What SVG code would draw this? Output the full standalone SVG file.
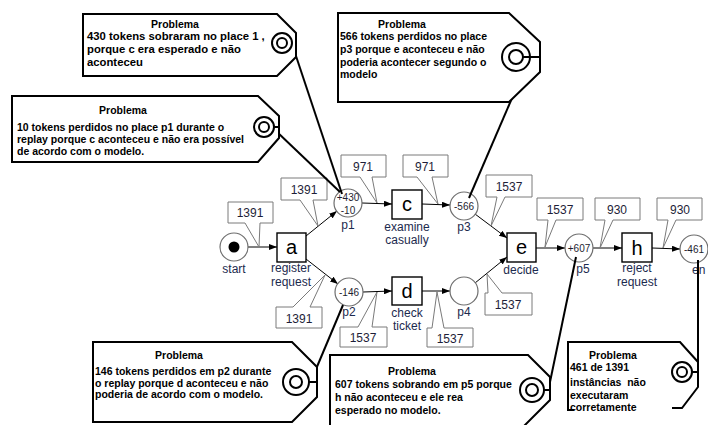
<svg xmlns="http://www.w3.org/2000/svg" width="708" height="425" viewBox="0 0 708 425">
  <defs>
    <marker id="arr" viewBox="0 0 8 6" refX="8" refY="3" markerWidth="8" markerHeight="6" orient="auto" markerUnits="userSpaceOnUse">
      <path d="M0,0 L8,3 L0,6 z" fill="#000"/>
    </marker>
    <style>
      .pl { fill:#fff; stroke:#6e6e6e; stroke-width:1.2 }
      .tr { fill:#fff; stroke:#000; stroke-width:1.4 }
      .arc { fill:none; stroke:#000; stroke-width:1; marker-end:url(#arr) }
      .co { fill:#fff; stroke:#7a7a7a; stroke-width:1 }
      .cot { font-family:"Liberation Sans", Arial, sans-serif; font-size:12px; fill:#1e1e38; text-anchor:middle }
      .lbl { font-family:"Liberation Sans", Arial, sans-serif; font-size:12px; fill:#1c2a4e; text-anchor:middle }
      .tl { font-family:"Liberation Sans", Arial, sans-serif; font-size:20px; fill:#000; text-anchor:middle }
      .in { font-family:"Liberation Sans", Arial, sans-serif; font-size:10px; fill:#1e1e30; text-anchor:middle }
      .tag { fill:#fff; stroke:#000; stroke-width:2; stroke-linejoin:miter }
      .tagfill { fill:#fff; stroke:none }
      .tt { font-family:"Liberation Sans", Arial, sans-serif; font-size:10.5px; font-weight:bold; fill:#000 }
      .tt.big { font-size:11.3px }
      .th { text-anchor:middle }
      .ring { fill:none; stroke:#000; stroke-width:2 }
      .lead { fill:none; stroke:#000; stroke-width:2 }
    </style>
  </defs>

  <!-- arcs of the net -->
  <g id="connectors">
    <line class="arc" x1="248" y1="247" x2="277" y2="247"/>
    <line class="arc" x1="306" y1="236" x2="337" y2="211"/>
    <line class="arc" x1="306" y1="259" x2="338" y2="284"/>
    <line class="arc" x1="362" y1="203" x2="392" y2="204"/>
    <line class="arc" x1="422" y1="204" x2="450" y2="205"/>
    <line class="arc" x1="363" y1="292" x2="392" y2="291"/>
    <line class="arc" x1="422" y1="291" x2="450" y2="291"/>
    <line class="arc" x1="475" y1="214" x2="507" y2="238"/>
    <line class="arc" x1="475" y1="283" x2="507" y2="257"/>
    <line class="arc" x1="536" y1="248" x2="565" y2="248"/>
    <line class="arc" x1="593" y1="248" x2="622" y2="248"/>
    <line class="arc" x1="652" y1="248" x2="680" y2="249"/>
  </g>

  <!-- token count callouts on the arcs -->
  <g id="counts">
    <path class="co" d="M228,202 H273 V223 H260 L259,247 L245,223 H228 Z"/>
    <text class="cot" x="250" y="217">1391</text>
    <path class="co" d="M281,178 H327 V200 H313 L318,226 L300,200 H281 Z"/>
    <text class="cot" x="304" y="194">1391</text>
    <path class="co" d="M341,155 H386 V177 H372 L377,203 L360,177 H341 Z"/>
    <text class="cot" x="363" y="171">971</text>
    <path class="co" d="M403,155 H448 V177 H432 L438,204 L417,177 H403 Z"/>
    <text class="cot" x="425" y="171">971</text>
    <path class="co" d="M486,175 H532 V197 H505 L491,226 L497,197 H486 Z"/>
    <text class="cot" x="509" y="191">1537</text>
    <path class="co" d="M537,198 H583 V220 H556 L545,247 L548,220 H537 Z"/>
    <text class="cot" x="560" y="214">1537</text>
    <path class="co" d="M595,198 H640 V220 H613 L600,248 L605,220 H595 Z"/>
    <text class="cot" x="617" y="214">930</text>
    <path class="co" d="M657,198 H702 V220 H676 L663,248 L668,220 H657 Z"/>
    <text class="cot" x="680" y="214">930</text>
    <path class="co" d="M276,307 H293 L325,275 L310,307 H322 V328 H276 Z"/>
    <text class="cot" x="299" y="323">1391</text>
    <path class="co" d="M340,327 H358 L377,292 L372,327 H387 V347 H340 Z"/>
    <text class="cot" x="363" y="342">1537</text>
    <path class="co" d="M427,328 H432 L437,292 L444,328 H473 V347 H427 Z"/>
    <text class="cot" x="450" y="343">1537</text>
    <path class="co" d="M485,293 H488 L487,274 L502,293 H532 V315 H485 Z"/>
    <text class="cot" x="508" y="309">1537</text>
  </g>

  <!-- places -->
  <g id="start">
    <circle class="pl" cx="234" cy="247" r="14"/>
    <circle cx="234" cy="247" r="5.5" fill="#000"/>
    <text class="lbl" x="234" y="273">start</text>
  </g>
  <g id="p1">
    <circle class="pl" cx="348" cy="203" r="14"/>
    <text class="in" x="348" y="201">+430</text>
    <text class="in" x="348" y="214">-10</text>
    <text class="lbl" x="348" y="229">p1</text>
  </g>
  <g id="p2">
    <circle class="pl" cx="349" cy="292" r="14"/>
    <text class="in" x="349" y="296">-146</text>
    <text class="lbl" x="349" y="316">p2</text>
  </g>
  <g id="p3">
    <circle class="pl" cx="464" cy="206" r="14"/>
    <text class="in" x="464" y="210">-566</text>
    <text class="lbl" x="464" y="231">p3</text>
  </g>
  <g id="p4">
    <circle class="pl" cx="464" cy="291" r="14"/>
    <text class="lbl" x="464" y="316">p4</text>
  </g>
  <g id="p5">
    <circle class="pl" cx="579" cy="248" r="14"/>
    <text class="in" x="579" y="252">+607</text>
    <text class="lbl" x="583" y="273">p5</text>
  </g>
  <g id="end">
    <circle class="pl" cx="694" cy="249" r="14"/>
    <text class="in" x="694" y="253">-461</text>
    <text class="lbl" x="692" y="274" style="text-anchor:start">en</text>
  </g>

  <!-- transitions -->
  <g id="a">
    <rect class="tr" x="277" y="233" width="29" height="29"/>
    <text class="tl" x="291.5" y="254">a</text>
    <text class="lbl" x="291" y="272">register</text>
    <text class="lbl" x="291" y="286">request</text>
  </g>
  <g id="c">
    <rect class="tr" x="392" y="190" width="30" height="29"/>
    <text class="tl" x="407" y="211">c</text>
    <text class="lbl" x="407" y="231">examine</text>
    <text class="lbl" x="407" y="244">casually</text>
  </g>
  <g id="d">
    <rect class="tr" x="392" y="277" width="30" height="28"/>
    <text class="tl" x="407" y="298">d</text>
    <text class="lbl" x="407" y="317">check</text>
    <text class="lbl" x="407" y="330">ticket</text>
  </g>
  <g id="e">
    <rect class="tr" x="507" y="233" width="29" height="29"/>
    <text class="tl" x="521.5" y="254">e</text>
    <text class="lbl" x="521" y="274">decide</text>
  </g>
  <g id="h">
    <rect class="tr" x="622" y="233" width="30" height="29"/>
    <text class="tl" x="637" y="255">h</text>
    <text class="lbl" x="637" y="272">reject</text>
    <text class="lbl" x="637" y="286">request</text>
  </g>

  <!-- problem tags and their leader lines -->
  <g id="leaders">
    <line class="lead" x1="294" y1="50" x2="342" y2="194"/>
    <line class="lead" x1="276" y1="131" x2="340" y2="192"/>
    <line class="lead" x1="525" y1="68" x2="469" y2="198"/>
    <line class="lead" x1="311" y1="381" x2="343" y2="305"/>
    <line class="lead" x1="550" y1="382" x2="576" y2="257"/>
    <line class="lead" x1="698" y1="260" x2="698" y2="372"/>
  </g>

  <g id="tag-p1-missing">
    <polygon class="tag" points="83,14 277,14 296,33 296,57 277,76 83,76"/>
    <circle class="ring" cx="282" cy="43" r="10"/>
    <circle class="ring" cx="282" cy="43" r="5"/>
    <text class="tt th" x="175" y="28">Problema</text>
    <text class="tt big" x="87" y="40">430 tokens sobraram no place 1 ,</text>
    <text class="tt big" x="87" y="53">porque c era esperado e não</text>
    <text class="tt big" x="87" y="66">aconteceu</text>
  </g>

  <g id="tag-p1-remaining">
    <polygon class="tag" points="12,96 258,96 279,116 279,138 258,162 12,162"/>
    <circle class="ring" cx="264" cy="127" r="10"/>
    <circle class="ring" cx="264" cy="127" r="5"/>
    <line class="lead" x1="274" y1="127" x2="279" y2="127"/>
    <text class="tt th" x="123" y="114">Problema</text>
    <text class="tt" x="17" y="131">10 tokens perdidos no place p1 durante o</text>
    <text class="tt" x="17" y="143">replay porque c aconteceu e não era possível</text>
    <text class="tt" x="17" y="155">de acordo com o modelo.</text>
  </g>

  <g id="tag-p3">
    <polygon class="tag" points="338,13 509,13 540,42 540,72 509,102 338,102"/>
    <circle class="ring" cx="516" cy="57" r="14"/>
    <circle class="ring" cx="516" cy="57" r="7"/>
    <line class="lead" x1="523" y1="57" x2="540" y2="57"/>
    <text class="tt th" x="402" y="28">Problema</text>
    <text class="tt" x="340" y="40">566 tokens perdidos no place</text>
    <text class="tt" x="340" y="53">p3 porque e aconteceu e não</text>
    <text class="tt" x="340" y="66">poderia acontecer segundo o</text>
    <text class="tt" x="340" y="78">modelo</text>
  </g>

  <g id="tag-p2">
    <polygon class="tag" points="93,342 292,342 317,367 317,397 292,422 93,422"/>
    <circle class="ring" cx="296" cy="382" r="13"/>
    <circle class="ring" cx="296" cy="382" r="6"/>
    <line class="lead" x1="309" y1="382" x2="317" y2="382"/>
    <text class="tt th" x="179" y="359">Problema</text>
    <text class="tt" x="95" y="375">146 tokens perdidos em p2 durante</text>
    <text class="tt" x="95" y="387">o replay porque d aconteceu e não</text>
    <text class="tt" x="95" y="398">poderia de acordo com o modelo.</text>
  </g>

  <g id="tag-p5">
    <polygon class="tagfill" points="330,355 528,355 550,377 550,400 525,425 330,425"/>
    <path class="tag" style="fill:none" d="M330,426 V355 H528 L550,377 V400 L524,426"/>
    <circle class="ring" cx="532" cy="390" r="12"/>
    <circle class="ring" cx="532" cy="390" r="6"/>
    <line class="lead" x1="544" y1="390" x2="550" y2="390"/>
    <text class="tt th" x="412" y="375">Problema</text>
    <text class="tt" x="335" y="388">607 tokens sobrando em p5 porque</text>
    <text class="tt" x="335" y="401">h não aconteceu e ele rea</text>
    <text class="tt" x="335" y="414">esperado no modelo.</text>
  </g>

  <g id="tag-end">
    <polygon class="tagfill" points="568,342 680,342 698,362 698,387 682,408 568,410"/>
    <path class="tag" style="fill:none" d="M574,410 H568 V342 H680 L698,362 V387 L682,408 H672"/>
    <circle class="ring" cx="682" cy="372" r="10"/>
    <circle class="ring" cx="682" cy="372" r="5"/>
    <line class="lead" x1="692" y1="372" x2="698" y2="372"/>
    <text class="tt th" x="613" y="359">Problema</text>
    <text class="tt" x="570" y="371">461 de 1391</text>
    <text class="tt" x="570" y="386" xml:space="preserve">instâncias  não</text>
    <text class="tt" x="570" y="399">executaram</text>
    <text class="tt" x="570" y="411">corretamente</text>
  </g>
</svg>
